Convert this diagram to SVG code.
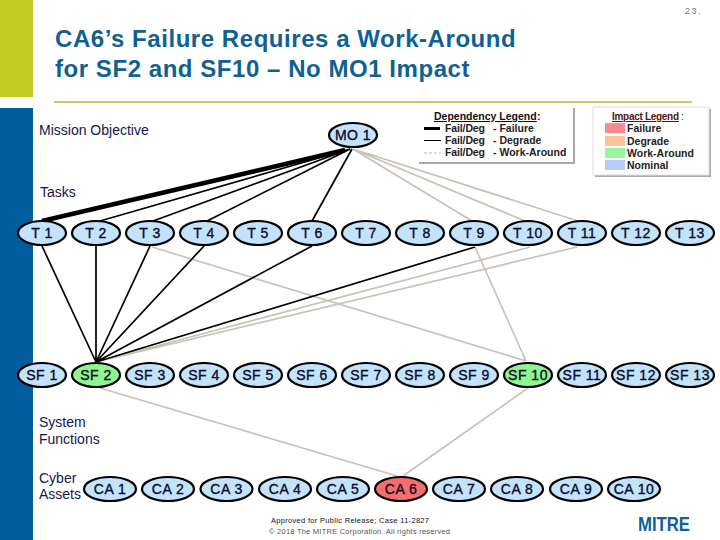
<svg xmlns="http://www.w3.org/2000/svg" width="720" height="540" viewBox="0 0 720 540">
<style>
text{font-family:"Liberation Sans",Arial,sans-serif}
.n ellipse{fill:#c3e2fb;stroke:#000;stroke-width:2.2}
.n text{font-size:14px;text-anchor:middle;fill:#0b0b2a;letter-spacing:.5px;stroke:#0b0b2a;stroke-width:.35}
.g{stroke:#c8c2ba;stroke-width:1.7;fill:none}
.b{stroke:#000;stroke-width:1.7;fill:none}
.l{font-size:14px;fill:#16164a}
.t{font-size:24px;font-weight:bold;fill:#0f6192;letter-spacing:.55px}
.d{font-size:10.5px;font-weight:bold;fill:#222}
.i{font-size:10.5px;font-weight:bold;fill:#222}
</style>
<rect width="720" height="540" fill="#fff"/>
<rect x="0" y="0" width="33" height="97" fill="#c1cd23"/>
<rect x="0" y="108" width="33" height="432" fill="#005e9e"/>
<rect x="54" y="101" width="638" height="2" fill="#c9ca6b"/>
<text x="685" y="14" font-size="9" fill="#777" letter-spacing="1.500">23.</text>
<text class="t" x="55" y="47">CA6’s Failure Requires a Work-Around</text>
<text class="t" x="55" y="77">for SF2 and SF10 – No MO1 Impact</text>
<text class="l" x="39" y="135">Mission Objective</text>
<text class="l" x="40" y="197">Tasks</text>
<text class="l" x="39" y="427">System</text>
<text class="l" x="39" y="444">Functions</text>
<text class="l" x="39" y="483">Cyber</text>
<text class="l" x="39" y="499">Assets</text>

<g id="dependency-legend">
<rect x="419" y="108" width="156" height="56" fill="#aaa"/>
<rect x="417" y="106" width="156" height="56" fill="#fff"/>
<text x="434" y="120" font-size="10.5" font-weight="bold" fill="#111" text-decoration="underline">Dependency Legend</text><text x="537" y="120" font-size="10.5" font-weight="bold" fill="#111">:</text>
<rect x="424" y="127" width="16" height="3" fill="#000"/>
<rect x="424" y="140" width="17" height="1" fill="#000"/>
<path d="M424 153H441" stroke="#bbb" stroke-width="1" stroke-dasharray="3 2"/>
<text class="d" x="445" y="132" textLength="40">Fail/Deg</text><text class="d" x="493" y="132" font-weight="normal">- Failure</text>
<text class="d" x="445" y="144" textLength="40">Fail/Deg</text><text class="d" x="493" y="144">- Degrade</text>
<text class="d" x="445" y="156" textLength="40">Fail/Deg</text><text class="d" x="493" y="156">- Work-Around</text>
</g>
<g id="impact-legend">
<rect x="595" y="109" width="116" height="68" fill="#aaa"/>
<rect x="593" y="107" width="116" height="68" fill="#fff" stroke="#ddd"/>
<text x="612" y="120" font-size="10" font-weight="bold" fill="#5a1010" text-decoration="underline" textLength="67">Impact Legend</text><text x="681" y="120" font-size="10" fill="#333">:</text>
<rect x="605" y="123" width="20" height="10" fill="#f98a8f"/>
<rect x="605" y="136" width="20" height="10" fill="#fcc29a"/>
<rect x="605" y="148" width="20" height="10" fill="#98f59a"/>
<rect x="605" y="160" width="20" height="10" fill="#b6cdf8"/>
<text class="i" x="627" y="132">Failure</text>
<text class="i" x="627" y="145">Degrade</text>
<text class="i" x="627" y="157">Work-Around</text>
<text class="i" x="627" y="169">Nominal</text>
</g>

<g id="connectors">
<path class="g" d="M353 149L472 221M353 149L525 221M353 149L578 221"/>
<path class="g" d="M152 247L526 361M475 247L526 361M530 247L96 362M577 247L96 362M100 388L397 476M528 388L403 476"/>
<path d="M345 150L42 221" stroke="#000" stroke-width="4.5"/>
<path class="b" d="M350 149L100 221M350 149L153 221M350 149L207 221M352 149L312 221"/>
<path class="b" d="M42 246L96 362M96 246V362M150 246L96 362M204 246L96 362M312 246L96 362M475 247L96 362"/>
</g>

<g id="MO1" class="n"><ellipse cx="353" cy="135" rx="24" ry="12"/><text x="353" y="140">MO 1</text></g>

<g id="T1" class="n"><ellipse cx="42" cy="233" rx="24" ry="12"/><text x="42" y="238">T 1</text></g>
<g id="T2" class="n"><ellipse cx="96" cy="233" rx="24" ry="12"/><text x="96" y="238">T 2</text></g>
<g id="T3" class="n"><ellipse cx="150" cy="233" rx="24" ry="12"/><text x="150" y="238">T 3</text></g>
<g id="T4" class="n"><ellipse cx="204" cy="233" rx="24" ry="12"/><text x="204" y="238">T 4</text></g>
<g id="T5" class="n"><ellipse cx="258" cy="233" rx="24" ry="12"/><text x="258" y="238">T 5</text></g>
<g id="T6" class="n"><ellipse cx="312" cy="233" rx="24" ry="12"/><text x="312" y="238">T 6</text></g>
<g id="T7" class="n"><ellipse cx="366" cy="233" rx="24" ry="12"/><text x="366" y="238">T 7</text></g>
<g id="T8" class="n"><ellipse cx="420" cy="233" rx="24" ry="12"/><text x="420" y="238">T 8</text></g>
<g id="T9" class="n"><ellipse cx="474" cy="233" rx="24" ry="12"/><text x="474" y="238">T 9</text></g>
<g id="T10" class="n"><ellipse cx="528" cy="233" rx="24" ry="12"/><text x="528" y="238">T 10</text></g>
<g id="T11" class="n"><ellipse cx="582" cy="233" rx="24" ry="12"/><text x="582" y="238">T 11</text></g>
<g id="T12" class="n"><ellipse cx="636" cy="233" rx="24" ry="12"/><text x="636" y="238">T 12</text></g>
<g id="T13" class="n"><ellipse cx="690" cy="233" rx="24" ry="12"/><text x="690" y="238">T 13</text></g>

<g id="SF1" class="n"><ellipse cx="42" cy="375" rx="24" ry="12"/><text x="42" y="380">SF 1</text></g>
<g id="SF2" class="n"><ellipse cx="96" cy="375" rx="24" ry="12" style="fill:#8ef58f"/><text x="96" y="380">SF 2</text></g>
<g id="SF3" class="n"><ellipse cx="150" cy="375" rx="24" ry="12"/><text x="150" y="380">SF 3</text></g>
<g id="SF4" class="n"><ellipse cx="204" cy="375" rx="24" ry="12"/><text x="204" y="380">SF 4</text></g>
<g id="SF5" class="n"><ellipse cx="258" cy="375" rx="24" ry="12"/><text x="258" y="380">SF 5</text></g>
<g id="SF6" class="n"><ellipse cx="312" cy="375" rx="24" ry="12"/><text x="312" y="380">SF 6</text></g>
<g id="SF7" class="n"><ellipse cx="366" cy="375" rx="24" ry="12"/><text x="366" y="380">SF 7</text></g>
<g id="SF8" class="n"><ellipse cx="420" cy="375" rx="24" ry="12"/><text x="420" y="380">SF 8</text></g>
<g id="SF9" class="n"><ellipse cx="474" cy="375" rx="24" ry="12"/><text x="474" y="380">SF 9</text></g>
<g id="SF10" class="n"><ellipse cx="528" cy="375" rx="24" ry="12" style="fill:#8ef58f"/><text x="528" y="380">SF 10</text></g>
<g id="SF11" class="n"><ellipse cx="582" cy="375" rx="24" ry="12"/><text x="582" y="380">SF 11</text></g>
<g id="SF12" class="n"><ellipse cx="636" cy="375" rx="24" ry="12"/><text x="636" y="380">SF 12</text></g>
<g id="SF13" class="n"><ellipse cx="690" cy="375" rx="24" ry="12"/><text x="690" y="380">SF 13</text></g>

<g id="CA1" class="n"><ellipse cx="110" cy="489" rx="26" ry="12"/><text x="110" y="494">CA 1</text></g>
<g id="CA2" class="n"><ellipse cx="168" cy="489" rx="26" ry="12"/><text x="168" y="494">CA 2</text></g>
<g id="CA3" class="n"><ellipse cx="226.500" cy="489" rx="26" ry="12"/><text x="226.500" y="494">CA 3</text></g>
<g id="CA4" class="n"><ellipse cx="285" cy="489" rx="26" ry="12"/><text x="285" y="494">CA 4</text></g>
<g id="CA5" class="n"><ellipse cx="343" cy="489" rx="26" ry="12"/><text x="343" y="494">CA 5</text></g>
<g id="CA6" class="n"><ellipse cx="401" cy="489" rx="26" ry="12" style="fill:#f76d6d"/><text x="401" y="494">CA 6</text></g>
<g id="CA7" class="n"><ellipse cx="459" cy="489" rx="26" ry="12"/><text x="459" y="494">CA 7</text></g>
<g id="CA8" class="n"><ellipse cx="517" cy="489" rx="26" ry="12"/><text x="517" y="494">CA 8</text></g>
<g id="CA9" class="n"><ellipse cx="576" cy="489" rx="26" ry="12"/><text x="576" y="494">CA 9</text></g>
<g id="CA10" class="n"><ellipse cx="634" cy="489" rx="26" ry="12"/><text x="634" y="494">CA 10</text></g>

<text x="271" y="523" font-size="7.500" fill="#111" textLength="158">Approved for Public Release;  Case 11-2827</text>
<text x="269" y="534" font-size="7.500" fill="#555" textLength="181">© 2018 The MITRE Corporation. All rights reserved</text>
<text x="638" y="531" font-size="20" font-weight="bold" fill="#0f5f96" textLength="52" lengthAdjust="spacingAndGlyphs">MITRE</text>
</svg>
